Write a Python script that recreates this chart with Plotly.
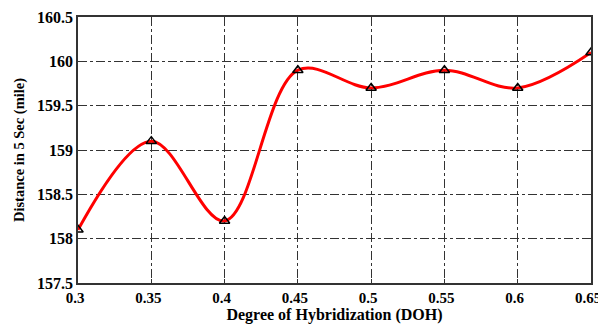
import plotly.graph_objects as go

doh = [0.3, 0.35, 0.4, 0.45, 0.5, 0.55, 0.6, 0.65]
distance = [158.1, 159.1, 158.2, 159.9, 159.7, 159.9, 159.7, 160.1]
x_ticks = [0.3, 0.35, 0.4, 0.45, 0.5, 0.55, 0.6, 0.65]
x_tick_labels = ["0.3", "0.35", "0.4", "0.45", "0.5", "0.55", "0.6", "0.65"]
y_ticks = [157.5, 158, 158.5, 159, 159.5, 160, 160.5]
y_tick_labels = ["157.5", "158", "158.5", "159", "159.5", "160", "160.5"]

font_fam = "Liberation Serif"

fig = go.Figure()
fig.add_trace(go.Scatter(
    x=doh, y=distance, mode="lines",
    line=dict(color="#ff0000", width=3, shape="spline", smoothing=1.0),
    hoverinfo="skip", showlegend=False))
fig.add_trace(go.Scatter(
    x=doh, y=distance, mode="markers",
    marker=dict(symbol="triangle-up-open", color="black", size=9, line=dict(width=1.5, color="black")),
    showlegend=False))

axis_common = dict(
    showline=True, linecolor="#333333", linewidth=1.5, mirror=True,
    showgrid=True, gridcolor="#333333", griddash="dashdot", gridwidth=1,
    ticks="inside", ticklen=4, tickcolor="#333333",
    zeroline=False, automargin=False,
)

fig.update_xaxes(
    range=[0.3, 0.65], tickvals=x_ticks, ticktext=["<b>%s</b>" % t for t in x_tick_labels],
    tickfont=dict(family=font_fam, size=15, color="black"), ticklabelshift=-3,
    title=dict(text="<b>Degree of Hybridization (DOH)</b>", font=dict(family=font_fam, size=16, color="black"), standoff=4),
    **axis_common)
fig.update_yaxes(
    range=[157.5, 160.5], tickvals=y_ticks, ticktext=["<b>%s</b>" % t for t in y_tick_labels],
    tickfont=dict(family=font_fam, size=16, color="black"),
    title=dict(text="<b>Distance in 5 Sec (mile)</b>", font=dict(family=font_fam, size=14.5, color="black"), standoff=9),
    **axis_common)

# page body has an 8px default margin, so the figure is sized/offset to compensate
fig.update_layout(
    width=598, height=323,
    margin=dict(l=70, r=15, t=9, b=48),
    plot_bgcolor="white", paper_bgcolor="white",
    font=dict(family=font_fam, color="black"),
)

fig.write_html("out.html")
